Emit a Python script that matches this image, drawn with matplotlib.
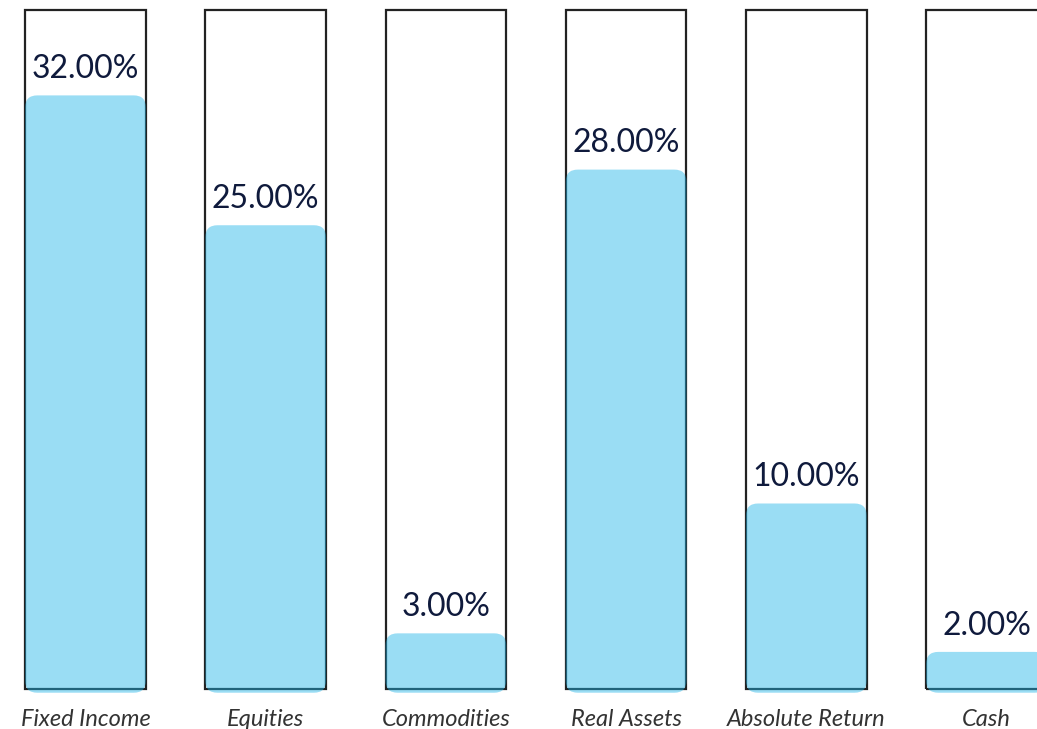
import matplotlib.pyplot as plt
from matplotlib.patches import FancyBboxPatch, Rectangle

categories = ['Fixed Income', 'Equities', 'Commodities', 'Real Assets', 'Absolute Return', 'Cash']
values = [32.0, 25.0, 3.0, 28.0, 10.0, 2.0]
labels = ['32.00%', '25.00%', '3.00%', '28.00%', '10.00%', '2.00%']

box_top = 36.6
bar_w = 0.67
px_x = 180.2   # pixels per x unit
px_y = 18.55   # pixels per y unit

fig = plt.figure(figsize=(10.37, 7.29), dpi=100)
ax = fig.add_axes([0, 0, 1, 1])
ax.set_xlim(-85.5 / px_x, (1037 - 85.5) / px_x)
ax.set_ylim(-(729 - 689) / px_y, 689 / px_y)
ax.axis('off')

aspect = px_x / px_y
for i, (cat, v, lab) in enumerate(zip(categories, values, labels)):
    # outline box
    ax.add_patch(Rectangle((i - bar_w / 2, 0), bar_w, box_top, fill=False,
                           edgecolor='#222222', linewidth=1.6, zorder=1))
    # rounded translucent bar
    ax.add_patch(FancyBboxPatch((i - bar_w / 2, -0.2), bar_w, v + 0.2,
                                boxstyle='round,pad=0,rounding_size=0.067',
                                mutation_aspect=aspect,
                                facecolor='#1fb4e8', alpha=0.45,
                                edgecolor='none', zorder=2))
    ax.annotate(lab, (i, v), xytext=(0, 8), textcoords='offset points',
                ha='center', va='bottom', fontsize=23, color='#0f1a3c',
                family='Lato', zorder=3)
    ax.text(i, -30 / px_y, cat, ha='center', va='center', fontsize=17,
            style='italic', color='#333333', family='Lato', zorder=3)

fig.savefig('out.png', dpi=100)
